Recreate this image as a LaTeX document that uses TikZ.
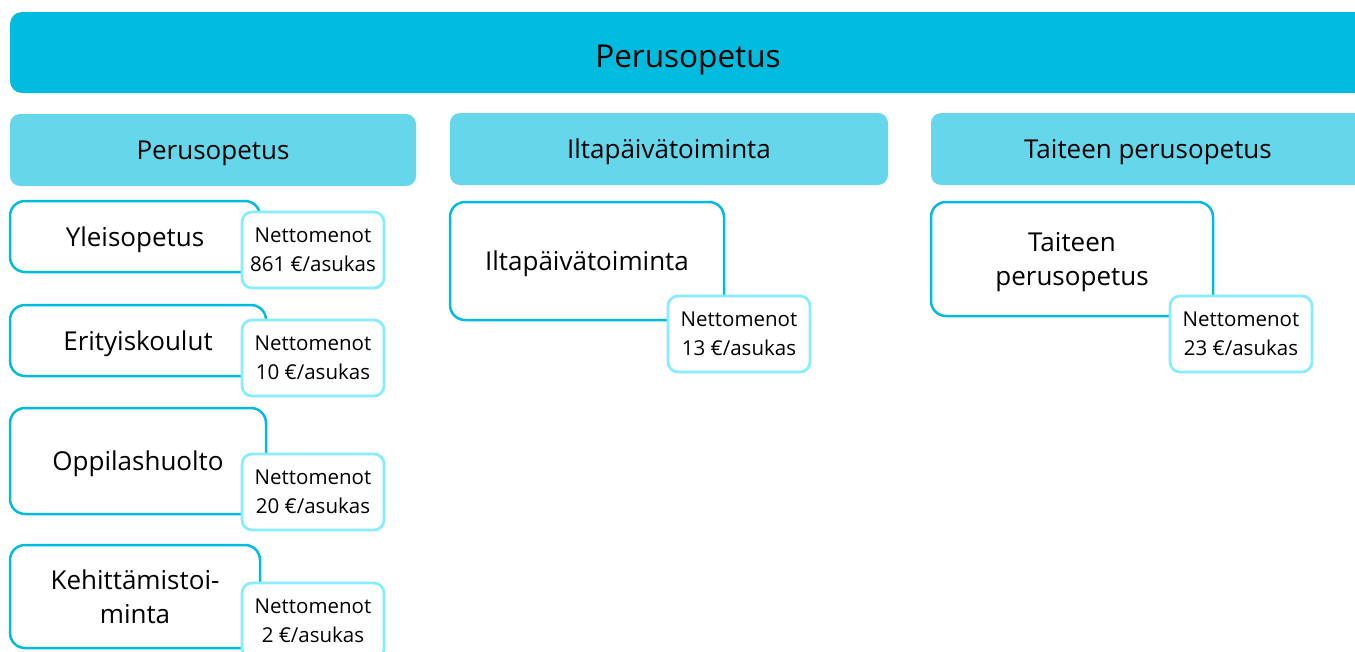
\documentclass[tikz,border=0pt]{standalone}
\usepackage{fontspec}
\setmainfont{Open Sans}
\definecolor{barblue}{RGB}{0,187,221}
\definecolor{headblue}{RGB}{102,214,234}
\definecolor{costline}{RGB}{136,236,255}

\tikzset{
  topbar/.style={fill=barblue, rounded corners=12pt, inner sep=0pt,
    text height=29pt, text depth=0pt, font=\fontsize{31.5}{38}\selectfont},
  headbox/.style={fill=headblue, rounded corners=10pt, inner sep=0pt,
    minimum height=72pt, text depth=0pt, font=\fontsize{26}{34}\selectfont},
  itembox/.style={draw=barblue, line width=2.5pt, fill=white, rounded corners=15pt,
    inner sep=0pt, align=center, text depth=0pt, font=\fontsize{26}{34}\selectfont},
  costbox/.style={draw=costline, line width=2.8pt, fill=white, rounded corners=10pt,
    inner sep=0pt, minimum width=142pt, minimum height=76pt, align=center,
    text depth=0pt, execute at begin node=\rule{0pt}{20pt},
    font=\fontsize{20.5}{29}\selectfont}
}

\begin{document}
\begin{tikzpicture}[x=1pt, y=-1pt]
  \useasboundingbox (0,0) rectangle (1355,651);
  \clip (0,0) rectangle (1355,651);

  % ylin taso
  \node[topbar, minimum width=1356pt, minimum height=81pt] (paa) at (688,52.5) {Perusopetus};

  % sarakkeiden otsikot
  \node[headbox, minimum width=406pt] (otsPerus) at (213,150) {Perusopetus};
  \node[headbox, minimum width=438pt] (otsIlta) at (669,149) {Iltapäivätoiminta};
  \node[headbox, minimum width=434pt] (otsTaide) at (1148,149) {Taiteen perusopetus};

  % tehtävät
  \node[itembox, minimum width=250pt, minimum height=71pt] (yleis) at (135,236.5) {Yleisopetus};
  \node[itembox, minimum width=256pt, minimum height=71pt] (erityis) at (138,340.5) {Erityiskoulut};
  \node[itembox, minimum width=256pt, minimum height=106pt] (oppilas) at (138,461) {Oppilashuolto};
  \node[itembox, minimum width=250pt, minimum height=103pt] (kehitys) at (135,596.5) {Kehittämistoi-\\minta};
  \node[itembox, minimum width=274pt, minimum height=118pt] (ilta) at (587,261) {Iltapäivätoiminta};
  \node[itembox, minimum width=282pt, minimum height=114pt] (taide) at (1072,259) {Taiteen\\perusopetus};

  % nettomenot
  \node[costbox] (mYleis) at (313,250) {Nettomenot\\861 €/asukas};
  \node[costbox] (mErityis) at (313,358) {Nettomenot\\10 €/asukas};
  \node[costbox] (mOppilas) at (313,492) {Nettomenot\\20 €/asukas};
  \node[costbox] (mKehitys) at (313,621) {Nettomenot\\2 €/asukas};
  \node[costbox] (mIlta) at (739,334) {Nettomenot\\13 €/asukas};
  \node[costbox] (mTaide) at (1241,334) {Nettomenot\\23 €/asukas};
\end{tikzpicture}
\end{document}
